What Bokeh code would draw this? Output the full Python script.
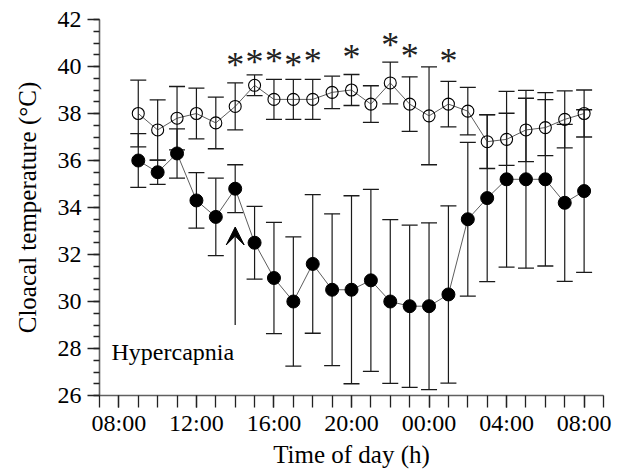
from bokeh.plotting import figure
from bokeh.models import (Range1d, FixedTicker, ColumnDataSource, Whisker, TeeHead,
                          Arrow, VeeHead)
from bokeh.core.properties import value
from bokeh.embed import file_html
from bokeh.resources import INLINE

# ---- data (hour of day; 24+ = next day) ----
hours = [9, 10, 11, 12, 13, 14, 15, 16, 17, 18, 19, 20, 21, 22, 23, 24,
         25, 26, 27, 28, 29, 30, 31, 32]
filled_mean = [36.0, 35.5, 36.3, 34.3, 33.6, 34.8, 32.5, 31.0, 30.0, 31.6, 30.5, 30.5,
               30.9, 30.0, 29.8, 29.8, 30.3, 33.5, 34.4, 35.2, 35.2, 35.2, 34.2, 34.7]
filled_err = [1.14, 0.52, 1.05, 1.18, 1.65, 1.02, 1.55, 2.37, 2.75, 2.95, 3.23, 4.0,
              3.87, 3.48, 3.45, 3.55, 3.77, 3.27, 3.55, 3.74, 3.78, 3.69, 3.34, 3.46]
open_mean = [38.0, 37.3, 37.8, 38.0, 37.6, 38.3, 39.2, 38.6, 38.6, 38.6, 38.9, 39.0,
             38.4, 39.3, 38.4, 37.9, 38.4, 38.1, 36.8, 36.9, 37.3, 37.4, 37.75, 38.0]
open_err = [1.42, 1.28, 1.35, 1.08, 1.1, 1.0, 0.44, 0.85, 0.85, 0.85, 0.69, 0.66,
            0.78, 0.89, 1.16, 2.08, 0.97, 1.01, 1.14, 1.11, 1.35, 1.19, 1.21, 1.0]

sig_hours = [14, 15, 16, 17, 18, 20, 22, 23, 25]
sig_y = [40.23, 40.35, 40.41, 40.23, 40.39, 40.56, 41.1, 40.6, 40.41]

x_major = [8, 12, 16, 20, 24, 28, 32]
x_labels = ["08:00", "12:00", "16:00", "20:00", "00:00", "04:00", "08:00"]
y_major = [26, 28, 30, 32, 34, 36, 38, 40, 42]

annot_hour = 14
annot_y_start = 29.0
annot_y_end = 33.17
annot_text = "Hypercapnia"
annot_text_x = 7.62
annot_text_y = 27.84

FONT = "Liberation Serif"

p = figure(width=623, height=471, output_backend="svg", toolbar_location=None,
           x_range=Range1d(7, 33), y_range=Range1d(26, 42),
           min_border_left=99, min_border_right=20, min_border_top=19,
           min_border_bottom=76)
p.outline_line_color = None
p.grid.visible = False
p.background_fill_color = "white"

# axes
xa = p.xaxis[0]
xa.ticker = FixedTicker(ticks=x_major, minor_ticks=list(range(7, 34)))
xa.major_label_overrides = {h: l for h, l in zip(x_major, x_labels)}
xa.axis_label = "Time of day (h)"
ya = p.yaxis[0]
ya.ticker = FixedTicker(ticks=y_major, minor_ticks=[26 + 0.5 * i for i in range(33)])
ya.axis_label = "Cloacal temperature (°C)"

for ax in (xa, ya):
    ax.axis_line_color = "#606060"
    ax.axis_line_width = 1.6
    ax.major_tick_line_color = "#222222"
    ax.minor_tick_line_color = "#222222"
    ax.major_tick_line_width = 1.3
    ax.minor_tick_line_width = 1.3
    ax.major_tick_in = 0
    ax.minor_tick_in = 0
    ax.major_label_text_font = FONT
    ax.major_label_text_font_size = "24px"
    ax.major_label_text_color = "black"
    ax.axis_label_text_font = FONT
    ax.axis_label_text_font_size = "25px"
    ax.axis_label_text_font_style = "normal"
    ax.axis_label_text_color = "black"

xa.major_tick_out = 12
xa.minor_tick_out = 12
xa.major_label_standoff = 2
xa.axis_label_standoff = 2
ya.major_tick_out = 12
ya.minor_tick_out = 6
ya.major_label_standoff = 6
ya.axis_label_standoff = 14

# error bars
f_src = ColumnDataSource(dict(x=hours, y=filled_mean,
                              up=[m + e for m, e in zip(filled_mean, filled_err)],
                              lo=[m - e for m, e in zip(filled_mean, filled_err)]))
o_src = ColumnDataSource(dict(x=hours, y=open_mean,
                              up=[m + e for m, e in zip(open_mean, open_err)],
                              lo=[m - e for m, e in zip(open_mean, open_err)]))
for src in (o_src, f_src):
    w = Whisker(source=src, base="x", upper="up", lower="lo",
                line_color="#1a1a1a", line_width=1.2,
                upper_head=TeeHead(size=16, line_color="#1a1a1a", line_width=1.3),
                lower_head=TeeHead(size=16, line_color="#1a1a1a", line_width=1.3))
    p.add_layout(w)

# lines and markers
p.line("x", "y", source=o_src, line_color="#333333", line_width=0.8)
p.line("x", "y", source=f_src, line_color="#333333", line_width=0.8)
p.scatter("x", "y", source=o_src, size=12, marker="circle", fill_alpha=0,
          line_color="black", line_width=1.1)
p.scatter("x", "y", source=f_src, size=13, marker="circle", fill_color="black",
          line_color="black")

# significance asterisks
p.text(x=sig_hours, y=sig_y, text=["*"] * len(sig_hours), text_font=value(FONT),
       text_font_size="36px", text_align="center", text_baseline="alphabetic",
       y_offset=4, text_color="#222222")

# hypercapnia annotation
p.add_layout(Arrow(x_start=annot_hour, y_start=annot_y_start, x_end=annot_hour,
                   y_end=annot_y_end, line_color="#222222", line_width=1.3,
                   end=VeeHead(size=18, fill_color="black", line_color="black")))
p.text(x=[annot_text_x], y=[annot_text_y], text=[annot_text], text_font=value(FONT),
       text_font_size="24px", text_align="left", text_baseline="alphabetic",
       text_color="black")

open("out.html", "w").write(file_html(p, INLINE))
